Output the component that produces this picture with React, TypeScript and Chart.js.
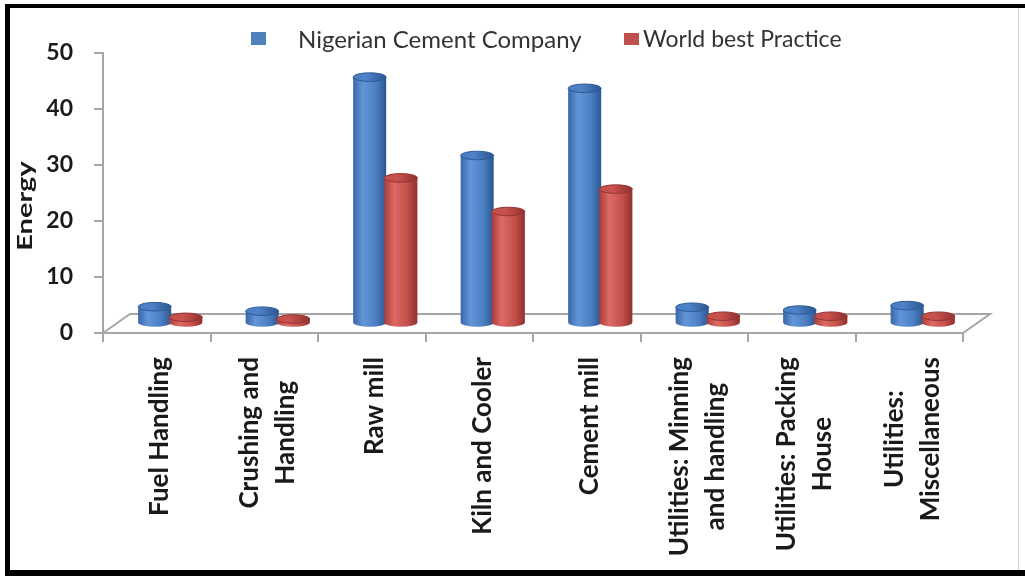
import { useEffect, useRef } from 'react';
import { Chart, registerables } from 'chart.js';

Chart.register(...registerables);

const categories: string[][] = [
  ['Fuel Handling'],
  ['Crushing and', 'Handling'],
  ['Raw mill'],
  ['Kiln and Cooler'],
  ['Cement mill'],
  ['Utilities: Minning', 'and handling'],
  ['Utilities: Packing', 'House'],
  ['Utilities:', 'Miscellaneous'],
];
const seriesNames = ['Nigerian Cement Company', 'World best Practice'];
const nigerianValues = [3.0, 2.2, 44, 30, 42, 2.9, 2.4, 3.2];
const worldBestValues = [1.1, 0.8, 26, 20, 24, 1.3, 1.3, 1.3];
const yMin = 0;
const yMax = 50;
const yStep = 10;
const yTitle = 'Energy';

const DX = 27;
const DY = -19;
const AXIS_GRAY = '#a6a6a6';
const TEXT_DARK = '#1a1a1a';

const palettes = [
  { edge: '#3a66a8', light: '#6396d8', mid: '#4a7ec2', dark: '#2c5590', top: '#4d82c6', rim: '#2f5b98', legend: '#4f81bd' },
  { edge: '#a83d3a', light: '#dc6a65', mid: '#c44f4b', dark: '#8f302d', top: '#c8524e', rim: '#983431', legend: '#c0504d' },
];

function drawCylinder(ctx: CanvasRenderingContext2D, x: number, top: number, base: number, w: number, pal: any) {
  const rx = w / 2;
  const ry = Math.max(3, w * 0.13);
  const left = x - rx;
  const right = x + rx;
  const g = ctx.createLinearGradient(left, 0, right, 0);
  g.addColorStop(0, pal.edge);
  g.addColorStop(0.3, pal.light);
  g.addColorStop(0.7, pal.mid);
  g.addColorStop(1, pal.dark);
  ctx.beginPath();
  ctx.moveTo(left, top);
  ctx.lineTo(left, base);
  ctx.ellipse(x, base, rx, ry, 0, Math.PI, 0, true);
  ctx.lineTo(right, top);
  ctx.closePath();
  ctx.fillStyle = g;
  ctx.fill();
  const tg = ctx.createLinearGradient(left, 0, right, 0);
  tg.addColorStop(0, pal.mid);
  tg.addColorStop(0.4, pal.top);
  tg.addColorStop(1, pal.dark);
  ctx.beginPath();
  ctx.ellipse(x, top, rx, ry, 0, 0, Math.PI * 2);
  ctx.fillStyle = tg;
  ctx.fill();
  ctx.strokeStyle = pal.rim;
  ctx.lineWidth = 1;
  ctx.stroke();
}

const framePlugin = {
  id: 'frame',
  beforeDraw(chart: any) {
    const ctx = chart.ctx;
    ctx.save();
    ctx.fillStyle = '#ffffff';
    ctx.fillRect(0, 0, chart.width, chart.height);
    ctx.restore();
  },
  afterDraw(chart: any) {
    const ctx = chart.ctx;
    ctx.save();
    ctx.fillStyle = '#000000';
    ctx.fillRect(5, 4, 1020, 4);
    ctx.fillRect(5, 4, 5, 572);
    ctx.fillRect(5, 570, 1020, 6);
    ctx.fillStyle = '#d0d0d0';
    ctx.fillRect(1018, 8, 1, 562);
    ctx.restore();
  },
};

const floorPlugin = {
  id: 'floor',
  beforeDatasetsDraw(chart: any) {
    const { ctx, chartArea } = chart;
    const { left, right, bottom } = chartArea;
    ctx.save();
    ctx.strokeStyle = AXIS_GRAY;
    ctx.lineWidth = 2;
    ctx.beginPath();
    ctx.moveTo(left, bottom);
    ctx.lineTo(left + DX, bottom + DY);
    ctx.lineTo(right + DX, bottom + DY);
    ctx.lineTo(right, bottom);
    ctx.stroke();
    ctx.restore();
  },
};

const cylinderPlugin = {
  id: 'cylinders',
  afterDatasetsDraw(chart: any) {
    const ctx = chart.ctx;
    const metas = [chart.getDatasetMeta(0), chart.getDatasetMeta(1)];
    const n = chart.data.labels.length;
    ctx.save();
    for (let i = 0; i < n; i++) {
      metas.forEach((meta: any, di: number) => {
        const el = meta.data[i];
        if (!el) return;
        const p = el.getProps(['x', 'y', 'base', 'width'], true);
        drawCylinder(ctx, p.x + DX / 2, p.y + DY / 2, p.base + DY / 2, p.width, palettes[di]);
      });
    }
    ctx.restore();
  },
};

const textPlugin = {
  id: 'texts',
  afterDraw(chart: any) {
    const ctx = chart.ctx;
    const xs = chart.scales.x;
    ctx.save();
    // category labels
    ctx.fillStyle = TEXT_DARK;
    ctx.font = 'bold 26px Lato';
    ctx.textBaseline = 'middle';
    ctx.textAlign = 'center';
    const lineGap = 36;
    const topY = 357;
    (chart.data.labels as string[][]).forEach((lines, i) => {
      const cx = xs.getPixelForValue(i) + 3;
      const maxW = Math.max(...lines.map((l) => ctx.measureText(l).width));
      const cy = topY + maxW / 2;
      lines.forEach((line, li) => {
        const lx = cx + (li - (lines.length - 1) / 2) * lineGap;
        ctx.save();
        ctx.translate(lx, cy);
        ctx.rotate(-Math.PI / 2);
        ctx.fillText(line, 0, 0);
        ctx.restore();
      });
    });
    // y title
    ctx.save();
    ctx.translate(26, 206);
    ctx.rotate(-Math.PI / 2);
    ctx.scale(1.45, 1);
    ctx.font = 'bold 20px Lato';
    ctx.fillText(yTitle, 0, 0);
    ctx.restore();
    // legend
    ctx.font = '24px Lato';
    ctx.textAlign = 'left';
    ctx.fillStyle = palettes[0].legend;
    ctx.fillRect(251, 32, 15, 13);
    ctx.fillStyle = '#333333';
    ctx.fillText(seriesNames[0], 298, 40);
    ctx.fillStyle = palettes[1].legend;
    ctx.fillRect(624, 33, 15, 12);
    ctx.fillStyle = '#333333';
    ctx.font = '23px Lato';
    ctx.fillText(seriesNames[1], 643, 40);
    ctx.restore();
  },
};

export default function App() {
  const ref = useRef<HTMLCanvasElement | null>(null);
  useEffect(() => {
    document.body.style.margin = '0';
    const canvas = ref.current;
    if (!canvas) return;
    const chart = new Chart(canvas, {
      type: 'bar',
      data: {
        labels: categories,
        datasets: [
          {
            label: seriesNames[0],
            data: nigerianValues,
            backgroundColor: 'rgba(0,0,0,0)',
            borderWidth: 0,
            categoryPercentage: 0.58,
            barPercentage: 1.06,
          },
          {
            label: seriesNames[1],
            data: worldBestValues,
            backgroundColor: 'rgba(0,0,0,0)',
            borderWidth: 0,
            categoryPercentage: 0.58,
            barPercentage: 1.06,
          },
        ],
      },
      options: {
        responsive: false,
        animation: false,
        events: [],
        layout: { padding: { top: 53, right: 62, left: 0, bottom: 0 } },
        plugins: { legend: { display: false }, tooltip: { enabled: false } },
        scales: {
          x: {
            grid: {
              display: true,
              drawOnChartArea: false,
              drawTicks: true,
              tickLength: 9,
              color: AXIS_GRAY,
              lineWidth: 2,
              offset: true,
            },
            border: { display: true, color: AXIS_GRAY, width: 2 },
            ticks: { display: false },
            afterFit: (s: any) => {
              s.height = 243;
            },
          },
          y: {
            min: yMin,
            max: yMax,
            ticks: {
              stepSize: yStep,
              padding: 21,
              color: TEXT_DARK,
              font: { family: 'Lato', size: 23, weight: 'bold' },
            },
            grid: {
              drawOnChartArea: false,
              drawTicks: true,
              tickLength: 9,
              color: AXIS_GRAY,
              lineWidth: 2,
            },
            border: { display: true, color: AXIS_GRAY, width: 2 },
            afterFit: (s: any) => {
              s.width = 103;
            },
          },
        },
      } as any,
      plugins: [framePlugin, floorPlugin, cylinderPlugin, textPlugin],
    });
    return () => chart.destroy();
  }, []);
  return (
    <div style={{ width: 1025, height: 576 }}>
      <canvas ref={ref} width={1025} height={576} style={{ display: 'block' }} />
    </div>
  );
}
